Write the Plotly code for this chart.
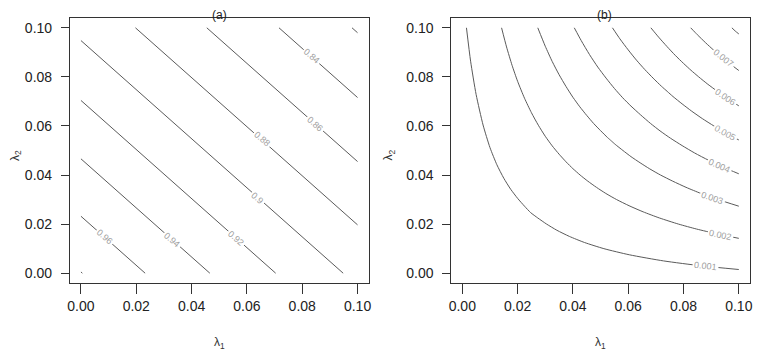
import plotly.graph_objects as go

# ---------------- Panel (a): straight contour lines (endpoints)
a_levels = ["0.98", "0.96", "0.94", "0.92", "0.9", "0.88", "0.86", "0.84", "0.82"]
a_x0 = [0.0, 0.0, 0.0, 0.0, 0.0, 0.0197, 0.0455, 0.0716, 0.0980]
a_y0 = [0.0005, 0.0232, 0.0466, 0.0704, 0.0948, 0.1000, 0.1000, 0.1000, 0.1000]
a_x1 = [0.0005, 0.0232, 0.0466, 0.0704, 0.0948, 0.1000, 0.1000, 0.1000, 0.1000]
a_y1 = [0.0, 0.0, 0.0, 0.0, 0.0, 0.0197, 0.0455, 0.0716, 0.0980]

a_lab_text = ["0.96", "0.94", "0.92", "0.9", "0.88", "0.86", "0.84"]
a_lab_x = [0.0087, 0.0329, 0.0559, 0.0637, 0.0655, 0.0846, 0.0834]
a_lab_y = [0.0149, 0.0135, 0.0142, 0.0306, 0.0545, 0.0607, 0.0886]
a_lab_angle = [41, 41, 41, 41, 41, 41, 41]

# ---------------- Panel (b): curved contour lines
b1_x = [0.0015, 0.0030, 0.0050, 0.0075, 0.0100, 0.0125, 0.0150, 0.0175, 0.0200, 0.0225, 0.0247,
        0.0273, 0.0305, 0.0342, 0.0387, 0.0442, 0.0512, 0.0604, 0.0728, 0.0864, 0.1000]
b1_y = [0.1000, 0.0864, 0.0728, 0.0604, 0.0512, 0.0442, 0.0387, 0.0342, 0.0305, 0.0273, 0.0247,
        0.0225, 0.0200, 0.0175, 0.0150, 0.0125, 0.0100, 0.0075, 0.0050, 0.0030, 0.0015]
b2_x = [0.0142, 0.0160, 0.0180, 0.0200, 0.0225, 0.0250, 0.0275, 0.0300, 0.0325, 0.0350, 0.0375, 0.0400, 0.0413,
        0.0426, 0.0454, 0.0485, 0.0519, 0.0558, 0.0603, 0.0654, 0.0713, 0.0782, 0.0847, 0.0922, 0.1000]
b2_y = [0.1000, 0.0922, 0.0847, 0.0782, 0.0713, 0.0654, 0.0603, 0.0558, 0.0519, 0.0485, 0.0454, 0.0426, 0.0413,
        0.0400, 0.0375, 0.0350, 0.0325, 0.0300, 0.0275, 0.0250, 0.0225, 0.0200, 0.0180, 0.0160, 0.0142]
b3_x = [0.0273, 0.0300, 0.0325, 0.0350, 0.0375, 0.0400, 0.0425, 0.0450, 0.0475, 0.0500, 0.0525, 0.0539,
        0.0553, 0.0581, 0.0610, 0.0643, 0.0678, 0.0717, 0.0761, 0.0809, 0.0863, 0.0925, 0.1000]
b3_y = [0.1000, 0.0925, 0.0863, 0.0809, 0.0761, 0.0717, 0.0678, 0.0643, 0.0610, 0.0581, 0.0553, 0.0539,
        0.0525, 0.0500, 0.0475, 0.0450, 0.0425, 0.0400, 0.0375, 0.0350, 0.0325, 0.0300, 0.0273]
b4_x = [0.0405, 0.0430, 0.0460, 0.0490, 0.0520, 0.0550, 0.0580, 0.0610, 0.0645,
        0.0681, 0.0715, 0.0753, 0.0795, 0.0840, 0.0891, 0.0948, 0.1000]
b4_y = [0.1000, 0.0948, 0.0891, 0.0840, 0.0795, 0.0753, 0.0715, 0.0681, 0.0645,
        0.0610, 0.0580, 0.0550, 0.0520, 0.0490, 0.0460, 0.0430, 0.0405]
b5_x = [0.0543, 0.0570, 0.0600, 0.0630, 0.0660, 0.0690, 0.0720, 0.0741,
        0.0762, 0.0795, 0.0830, 0.0868, 0.0910, 0.0955, 0.1000]
b5_y = [0.1000, 0.0955, 0.0910, 0.0868, 0.0830, 0.0795, 0.0762, 0.0741,
        0.0720, 0.0690, 0.0660, 0.0630, 0.0600, 0.0570, 0.0543]
b6_x = [0.0682, 0.0710, 0.0740, 0.0770, 0.0800, 0.0827, 0.0855, 0.0888, 0.0924, 0.0962, 0.1000]
b6_y = [0.1000, 0.0962, 0.0924, 0.0888, 0.0855, 0.0827, 0.0800, 0.0770, 0.0740, 0.0710, 0.0682]
b7_x = [0.0826, 0.0850, 0.0880, 0.0909, 0.0939, 0.0972, 0.1000]
b7_y = [0.1000, 0.0972, 0.0939, 0.0909, 0.0880, 0.0850, 0.0826]
b8_x = [0.0975, 0.0987, 0.1000]
b8_y = [0.1000, 0.0987, 0.0975]

b_lab_text = ["0.001", "0.002", "0.003", "0.004", "0.005", "0.006", "0.007"]
b_lab_x = [0.0879, 0.0933, 0.0904, 0.0931, 0.0951, 0.0951, 0.0944]
b_lab_y = [0.0028, 0.0157, 0.0308, 0.0438, 0.0573, 0.0718, 0.0876]
b_lab_angle = [6, 12, 19, 24, 29, 34, 39]

x_ticks = [0.0, 0.02, 0.04, 0.06, 0.08, 0.10]
y_ticks = [0.0, 0.02, 0.04, 0.06, 0.08, 0.10]
tick_text = ["0.00", "0.02", "0.04", "0.06", "0.08", "0.10"]

LINE = "#5a5a5a"
LABEL = "#a0a0a0"
FONT = "Liberation Sans, Arial, sans-serif"

# The page has an 8px body margin: figure is 754x347 placed at (8, 8) on the page.
W, H, OFF = 754, 347, 8


def PX(p):
    return (p - OFF) / W


def PY(p):
    return 1 - (p - OFF) / H


fig = go.Figure()

for i in range(len(a_levels)):
    fig.add_trace(go.Scatter(x=[a_x0[i], a_x1[i]], y=[a_y0[i], a_y1[i]], mode="lines",
                             line=dict(color=LINE, width=1), xaxis="x", yaxis="y",
                             showlegend=False, hoverinfo="skip"))

for bx, by in [(b1_x, b1_y), (b2_x, b2_y), (b3_x, b3_y), (b4_x, b4_y),
               (b5_x, b5_y), (b6_x, b6_y), (b7_x, b7_y), (b8_x, b8_y)]:
    fig.add_trace(go.Scatter(x=bx, y=by, mode="lines",
                             line=dict(color=LINE, width=1, shape="spline", smoothing=0.6),
                             xaxis="x2", yaxis="y2", showlegend=False, hoverinfo="skip"))

ann = []
for t, x, y, a in zip(a_lab_text, a_lab_x, a_lab_y, a_lab_angle):
    ann.append(dict(x=x, y=y, xref="x", yref="y", text=t, showarrow=False, textangle=a,
                    xanchor="center", yanchor="middle",
                    font=dict(family=FONT, size=9, color=LABEL), bgcolor="white", borderpad=1))
for t, x, y, a in zip(b_lab_text, b_lab_x, b_lab_y, b_lab_angle):
    ann.append(dict(x=x, y=y, xref="x2", yref="y2", text=t, showarrow=False, textangle=a,
                    xanchor="center", yanchor="middle",
                    font=dict(family=FONT, size=9, color=LABEL), bgcolor="white", borderpad=1))

common = dict(xref="paper", yref="paper", showarrow=False, xanchor="center", yanchor="middle")
ann += [
    dict(x=PX(218.5), y=PY(15), text="(a)", font=dict(family=FONT, size=12, color="#222"),
         borderpad=0, **common),
    dict(x=PX(606), y=PY(15), text="(b)", font=dict(family=FONT, size=12, color="#222"),
         borderpad=0, **common),
    dict(x=PX(218.5), y=PY(343), text="λ<sub>1</sub>", font=dict(family=FONT, size=12, color="#333"), **common),
    dict(x=PX(602), y=PY(343), text="λ<sub>1</sub>", font=dict(family=FONT, size=12, color="#333"), **common),
    dict(x=PX(14), y=PY(155), text="λ<sub>2</sub>", textangle=-90,
         font=dict(family=FONT, size=12, color="#333"), **common),
    dict(x=PX(390), y=PY(155), text="λ<sub>2</sub>", textangle=-90,
         font=dict(family=FONT, size=12, color="#333"), **common),
]


def xax(domain):
    return dict(domain=domain, range=[-0.004, 0.104], tickvals=x_ticks, ticktext=tick_text,
                showgrid=False, zeroline=False, showline=True, mirror=True, linecolor="#333",
                linewidth=1, ticks="outside", ticklen=10, tickcolor="#333",
                tickfont=dict(family=FONT, size=14, color="#222"), ticklabelstandoff=0,
                fixedrange=True)


def yax(domain, anchor):
    return dict(domain=domain, range=[-0.004, 0.104], tickvals=y_ticks, ticktext=tick_text,
                showgrid=False, zeroline=False, showline=True, mirror=True, linecolor="#333",
                linewidth=1, ticks="outside", ticklen=8, tickcolor="#333", anchor=anchor,
                tickfont=dict(family=FONT, size=14, color="#222"), ticklabelstandoff=6,
                fixedrange=True)


ydom = [PY(283), PY(18)]
fig.update_layout(
    width=W, height=H,
    margin=dict(l=0, r=0, t=0, b=0),
    paper_bgcolor="white", plot_bgcolor="white",
    xaxis=dict(xax([PX(68.3), PX(369)]), anchor="y"),
    yaxis=yax(ydom, "x"),
    xaxis2=dict(xax([PX(452.2), PX(752.8)]), anchor="y2"),
    yaxis2=yax(ydom, "x2"),
    annotations=ann,
    showlegend=False,
)

fig.write_html("out.html")
